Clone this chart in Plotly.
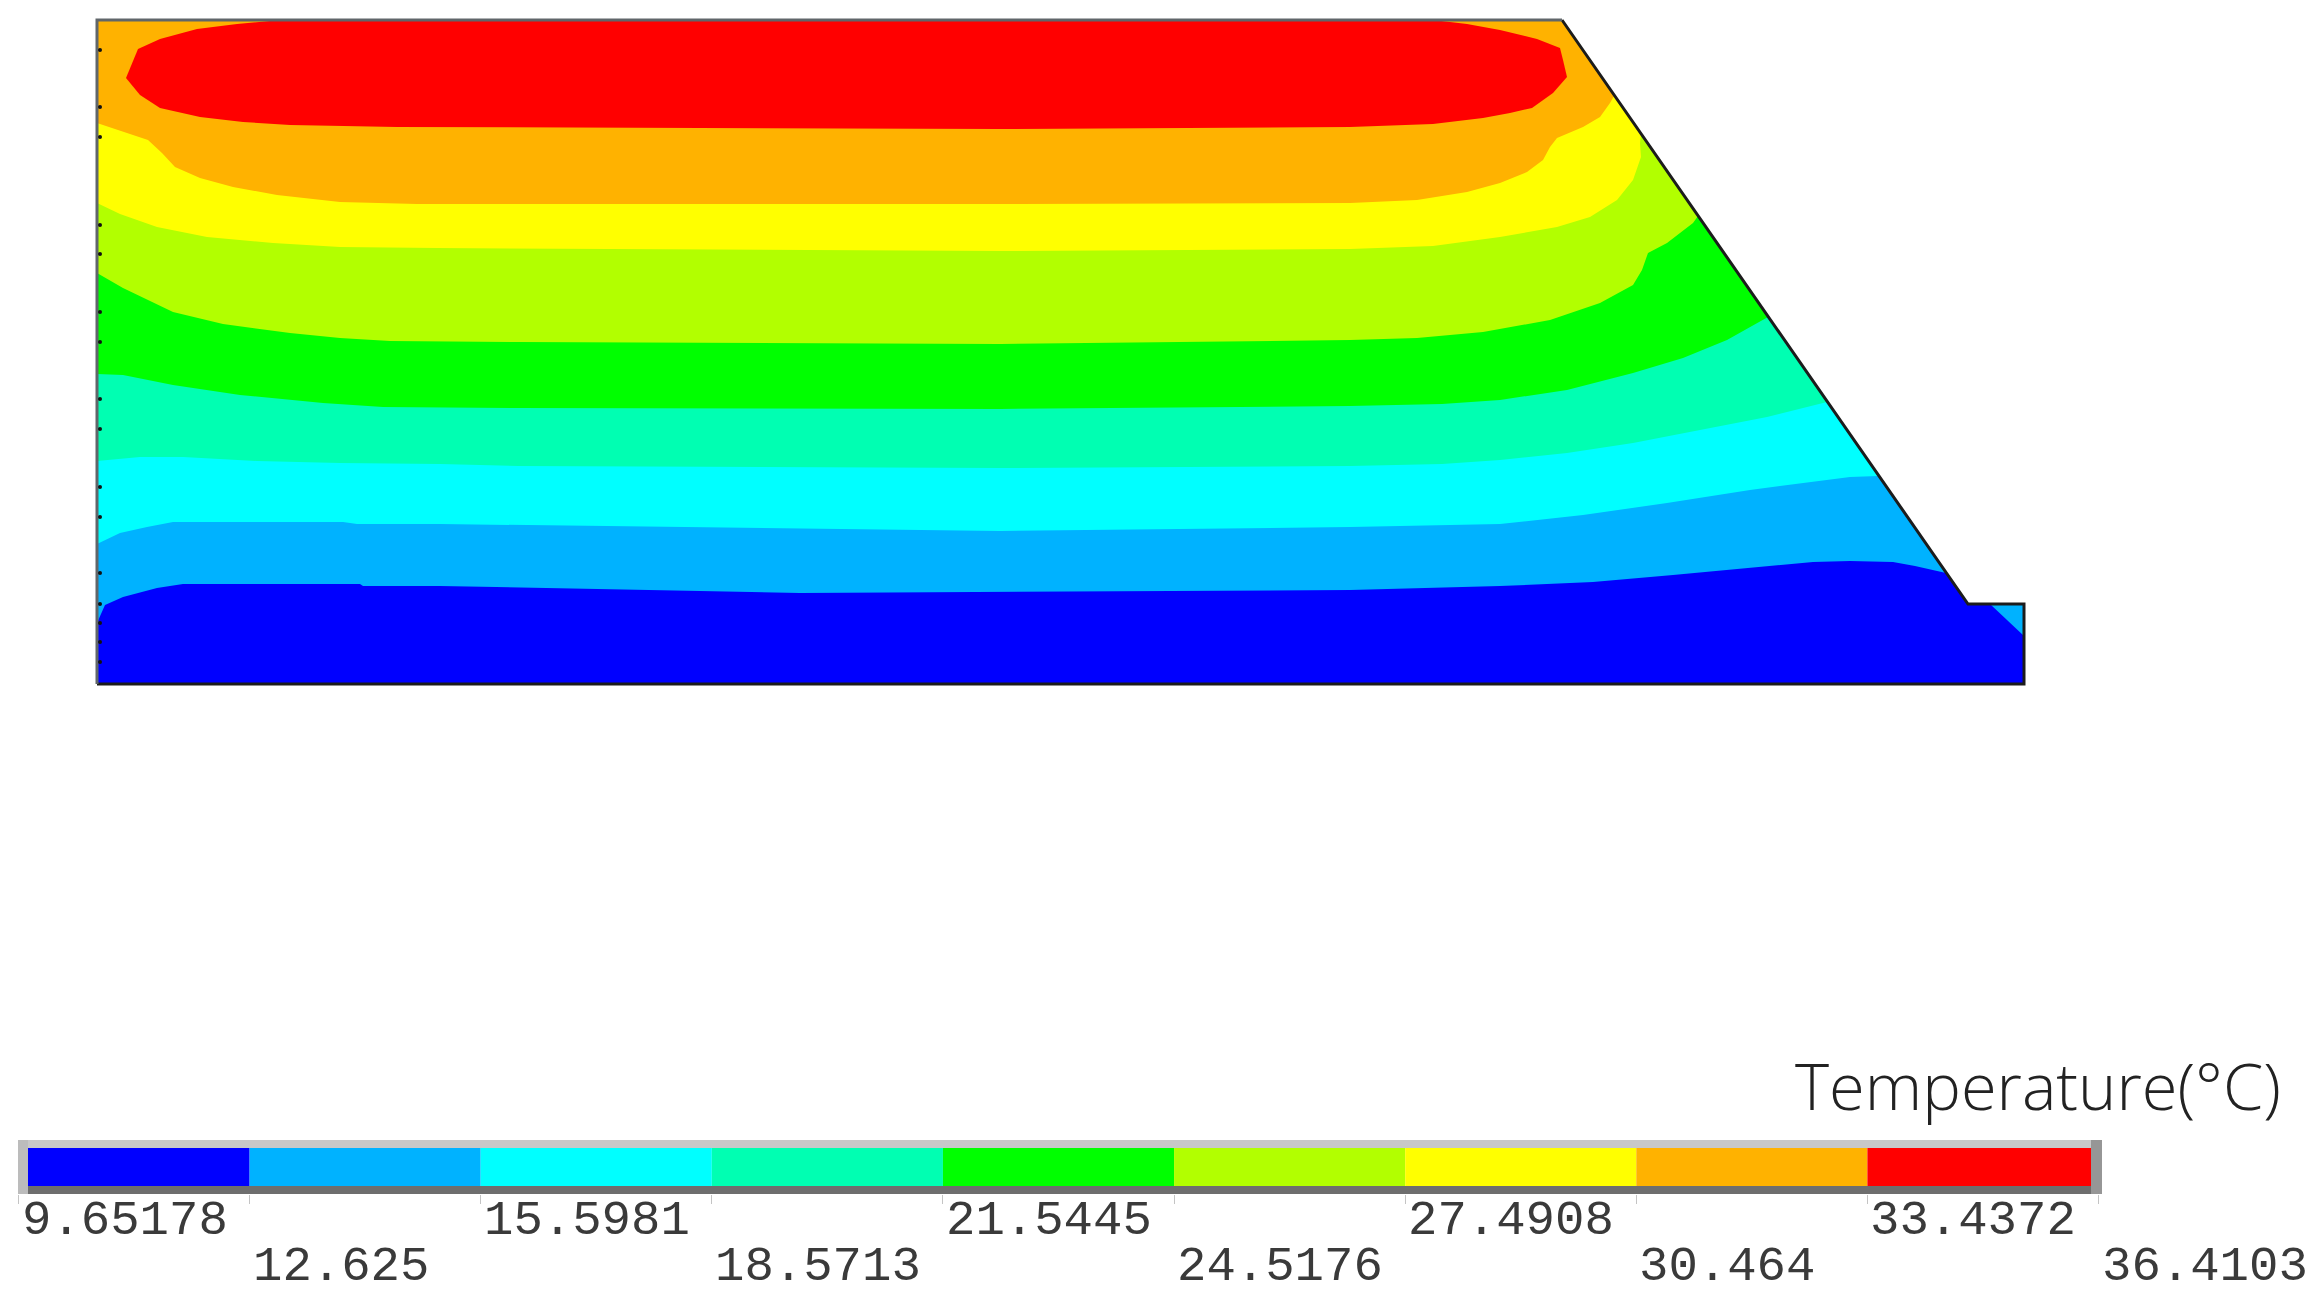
import plotly.graph_objects as go

W = 2323
H = 1303

# temperature levels of the legend
levels = [9.65178, 12.625, 15.5981, 18.5713, 21.5445, 24.5176, 27.4908, 30.464, 33.4372, 36.4103]
level_labels = ['9.65178', '12.625', '15.5981', '18.5713', '21.5445', '24.5176', '27.4908', '30.464', '33.4372', '36.4103']
band_colors = ['#0000FF', '#00B2FF', '#00FFFF', '#00FFB2', '#00FF00', '#B2FF00', '#FFFF00', '#FFB200', '#FF0000']

# dam outline
dam_x = [97, 1562, 1968, 2024, 2024, 97, 97]
dam_y = [20, 20, 604, 604, 684, 684, 20]

# isotherms, lower edge of each colour band, left to right
iso_1_x = [97, 105, 123, 157, 183, 360, 363, 440, 800, 1350, 1500, 1593, 1673, 1750, 1813, 1850, 1893, 1915, 1946]
iso_1_y = [623, 605, 597, 588, 584, 584, 586, 586, 593, 590, 586, 582, 575, 568, 562, 561, 562, 566, 573]
iso_2_x = [97, 120, 147, 173, 343, 357, 440, 1000, 1350, 1500, 1583, 1667, 1750, 1833, 1850, 1878]
iso_2_y = [544, 533, 527, 522, 522, 524, 524, 531, 527, 524, 515, 503, 490, 479, 477, 476]
iso_3_x = [97, 140, 183, 257, 340, 440, 519, 1000, 1350, 1442, 1500, 1567, 1633, 1700, 1767, 1827]
iso_3_y = [461, 457, 457, 461, 463, 464, 466, 468, 466, 464, 460, 453, 443, 430, 417, 402]
iso_4_x = [97, 123, 173, 240, 323, 383, 519, 1000, 1350, 1442, 1500, 1567, 1633, 1683, 1727, 1768]
iso_4_y = [374, 375, 385, 395, 403, 407, 408, 409, 406, 404, 400, 390, 373, 358, 340, 317]
iso_5_x = [97, 123, 173, 223, 290, 340, 390, 519, 1000, 1350, 1417, 1483, 1550, 1600, 1633, 1642, 1648, 1667, 1693, 1698]
iso_5_y = [273, 288, 312, 324, 333, 338, 341, 342, 344, 340, 338, 332, 320, 303, 285, 270, 253, 243, 223, 216]
iso_6_x = [97, 120, 157, 207, 273, 340, 437, 1000, 1350, 1433, 1500, 1557, 1590, 1617, 1633, 1641, 1640, 1641]
iso_6_y = [203, 214, 227, 237, 243, 247, 248, 251, 249, 246, 237, 227, 217, 200, 180, 157, 143, 134]
iso_7_x = [97, 123, 148, 162, 175, 200, 233, 277, 340, 417, 1000, 1350, 1417, 1467, 1500, 1527, 1543, 1550, 1557, 1583, 1600, 1610, 1614]
iso_7_y = [123, 132, 140, 153, 167, 178, 187, 195, 202, 204, 204, 203, 200, 192, 183, 172, 160, 147, 138, 127, 117, 103, 96]
iso_8_x = [280, 237, 197, 160, 138, 126, 140, 160, 200, 243, 290, 397, 1000, 1350, 1433, 1483, 1510, 1532, 1553, 1567, 1563, 1560, 1537, 1500, 1467, 1433]
iso_8_y = [20, 24, 29, 39, 49, 78, 95, 108, 117, 122, 125, 127, 129, 127, 124, 118, 113, 108, 93, 77, 60, 48, 39, 30, 24, 20]

# small warmer corner at the toe
toe_x = [1990, 2024, 2024]
toe_y = [604, 604, 636]

# mesh nodes visible on the left edge
node_y = [50, 107, 137, 225, 254, 312, 342, 399, 429, 487, 517, 573, 604, 623, 642, 662]

isotherms = [(iso_1_x, iso_1_y), (iso_2_x, iso_2_y), (iso_3_x, iso_3_y), (iso_4_x, iso_4_y),
             (iso_5_x, iso_5_y), (iso_6_x, iso_6_y), (iso_7_x, iso_7_y)]

fig = go.Figure()

# paint from coldest to hottest, every band covers what is above it
fig.add_trace(go.Scatter(x=dam_x, y=dam_y, mode='lines', fill='toself', fillcolor=band_colors[0],
                         line_width=0, xaxis='x', yaxis='y'))
for i, (ix, iy) in enumerate(isotherms):
    fig.add_trace(go.Scatter(x=ix + [dam_x[1], dam_x[0]], y=iy + [dam_y[1], dam_y[0]],
                             mode='lines', fill='toself', fillcolor=band_colors[i + 1],
                             line_width=0, xaxis='x', yaxis='y'))
fig.add_trace(go.Scatter(x=iso_8_x, y=iso_8_y, mode='lines', fill='toself', fillcolor=band_colors[8],
                         line_width=0, xaxis='x', yaxis='y'))
fig.add_trace(go.Scatter(x=toe_x, y=toe_y, mode='lines', fill='toself', fillcolor=band_colors[1],
                         line_width=0, xaxis='x', yaxis='y'))

# top and left edges are greyer than the rest of the outline
fig.add_trace(go.Scatter(x=dam_x[1:6], y=dam_y[1:6], mode='lines', line=dict(color='#1c1c1c', width=3),
                         xaxis='x', yaxis='y'))
fig.add_trace(go.Scatter(x=[dam_x[5], dam_x[0], dam_x[1]], y=[dam_y[5], dam_y[0], dam_y[1]], mode='lines',
                         line=dict(color='#60666a', width=3), xaxis='x', yaxis='y'))
fig.add_trace(go.Scatter(x=[100] * len(node_y), y=node_y, mode='markers',
                         marker=dict(color='#111111', size=4), xaxis='x', yaxis='y'))

# legend bar, one piece per band on its own temperature axis
for i in range(len(band_colors)):
    fig.add_trace(go.Bar(x=[levels[i + 1] - levels[i]], base=[levels[i]], y=[0.5], width=[0.704],
                         orientation='h', marker=dict(color=band_colors[i], line_width=0),
                         xaxis='x2', yaxis='y2'))

fig.update_layout(
    width=W,
    height=H,
    margin=dict(l=0, r=0, t=0, b=0),
    paper_bgcolor='white',
    plot_bgcolor='rgba(0,0,0,0)',
    showlegend=False,
    barmode='overlay',
    xaxis=dict(domain=[0, 1], range=[0, W], visible=False),
    yaxis=dict(domain=[0, 1], range=[H, 0], visible=False),
    xaxis2=dict(domain=[18.5 / W, 2098.5 / W], range=[levels[0], levels[-1]], anchor='y2',
                tickvals=levels, showticklabels=False, ticks='outside', ticklen=9, tickwidth=1,
                tickcolor='#c4c4c4', showgrid=False, zeroline=False, showline=False),
    yaxis2=dict(domain=[1 - 1194 / H, 1 - 1140 / H], range=[0, 1], anchor='x2', visible=False),
)

# bevelled frame of the legend bar
frame = [(18, 1140, 2102, 1148, '#c8c8c8'),
         (18, 1186, 2102, 1194, '#6e6e6e'),
         (18, 1140, 28, 1194, '#bcbcbc'),
         (2091, 1140, 2102, 1194, '#969696')]
for x0, y0, x1, y1, c in frame:
    fig.add_shape(type='rect', xref='paper', yref='paper', x0=x0 / W, x1=x1 / W,
                  y0=1 - y0 / H, y1=1 - y1 / H, fillcolor=c, line_width=0, layer='above')

# labels sit in two alternating rows, left aligned on the tick
for i, lab in enumerate(level_labels):
    row_y = 1221 if i % 2 == 0 else 1267
    fig.add_annotation(x=levels[i], xref='x2', y=1 - row_y / H, yref='paper', text=lab,
                       showarrow=False, xanchor='left', yanchor='middle', xshift=1,
                       font=dict(family='Liberation Mono', size=49, color='#3a3a3a'))

fig.add_annotation(x=1793 / W, xref='paper', y=1 - 1085 / H, yref='paper', text='Temperature(°C)',
                   showarrow=False, xanchor='left', yanchor='middle',
                   font=dict(family='Open Sans', size=65, color='#222222', weight=300))

# the page body has a default margin that would shift the fixed size figure
fig.write_html("out.html", config={'displayModeBar': False},
               post_script="document.body.style.margin='0';")
